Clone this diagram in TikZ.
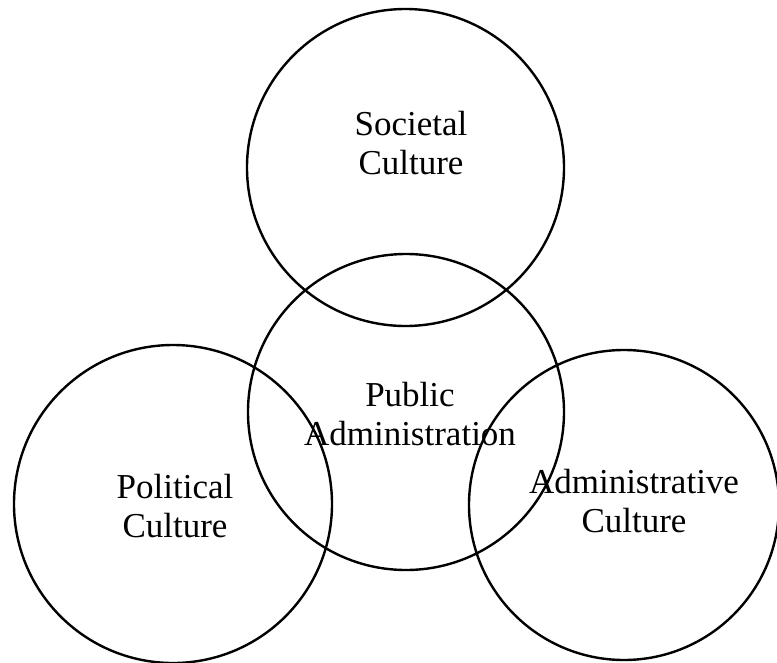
\documentclass[tikz,border=0pt]{standalone}
\usepackage{fontspec}
\setmainfont{Liberation Serif}
\begin{document}
\begin{tikzpicture}[x=1pt,y=-1pt,
  ring/.style={circle, draw, line width=2.4pt, inner sep=0pt, minimum size=#1},
  label/.style={align=center, anchor=base, inner sep=0pt,
    font=\fontsize{35}{39}\selectfont}]
  \useasboundingbox (0,0) rectangle (777,662);
  % the four overlapping circles
  \node[ring=317pt] (soc) at (405.5,167.5) {};
  \node[ring=316pt] (pub) at (406,412) {};
  \node[ring=318pt] (pol) at (173,504) {};
  \node[ring=310pt] (adm) at (624,505) {};
  % their captions (anchored on the baseline of the second line)
  \node[label] (soct) at (411,174) {Societal\\Culture};
  \node[label] (pubt) at (410,445) {Public\\Administration};
  \node[label] (polt) at (175,537) {Political\\Culture};
  \node[label] (admt) at (634,532) {Administrative\\Culture};
\end{tikzpicture}
\end{document}
